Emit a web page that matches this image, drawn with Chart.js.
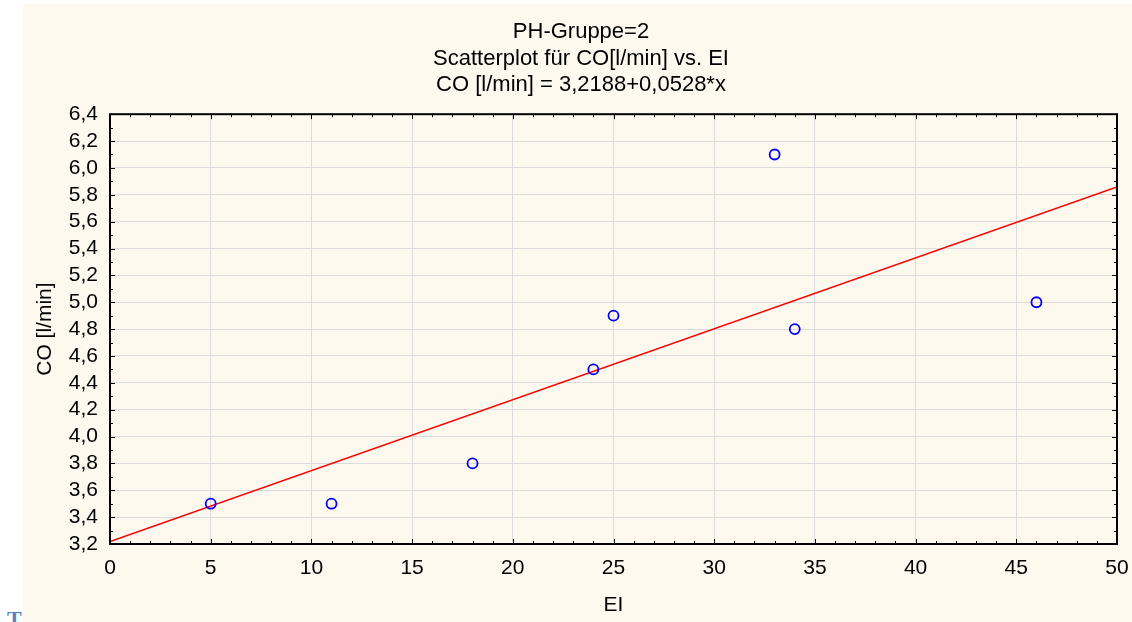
<!DOCTYPE html>
<html>
<head>
<meta charset="utf-8">
<script src="https://cdn.jsdelivr.net/npm/chart.js@4/dist/chart.umd.min.js"></script>
<style>
  html, body { margin: 0; padding: 0; background: #fff; width: 1132px; height: 622px; overflow: hidden; }
  #panel { position: absolute; left: 23px; top: 4px; width: 1109px; height: 618px; background: #fdf9ef; }
  #mark { position: absolute; left: 7px; top: 608px; font: bold 22px "Liberation Serif", serif; line-height: 22px; color: #5a82c0; }
</style>
</head>
<body>
<div id="panel"><canvas id="chart"></canvas></div>
<div id="mark">T</div>
<script>
// data
const titleLines = ["PH-Gruppe=2", "Scatterplot für CO[l/min] vs. EI", "CO [l/min] = 3,2188+0,0528*x"];
const xLabel = "EI";
const yLabel = "CO [l/min]";
const xTicks = [0, 5, 10, 15, 20, 25, 30, 35, 40, 45, 50];
const yTicks = [3.2, 3.4, 3.6, 3.8, 4.0, 4.2, 4.4, 4.6, 4.8, 5.0, 5.2, 5.4, 5.6, 5.8, 6.0, 6.2, 6.4];
const eiValues = [5, 11, 18, 24, 25, 33, 34, 46];
const coValues = [3.5, 3.5, 3.8, 4.5, 4.9, 6.1, 4.8, 5.0];
// regression line end points (from the equation in the title)
const fitX = [0, 50];
const fitY = [3.2188, 5.8588];

const FONT = "'Liberation Sans', Arial, sans-serif";
const comma = v => Number(v).toFixed(1).replace(".", ",");

// frame + small inward tick marks on all four sides
const frameTicks = {
  id: "frameTicks",
  afterDatasetsDraw(chart) {
    const { ctx, chartArea: a, scales: { x, y } } = chart;
    ctx.save();
    ctx.strokeStyle = "#000";
    ctx.lineWidth = 1;
    ctx.beginPath();
    // x: minor every 1, major every 5
    for (let v = xTicks[0]; v <= xTicks[xTicks.length - 1]; v += 1) {
      const px = Math.round(x.getPixelForValue(v)) + 0.5;
      const len = v % 5 === 0 ? 5 : 3;
      ctx.moveTo(px, a.bottom); ctx.lineTo(px, a.bottom - len);
      ctx.moveTo(px, a.top); ctx.lineTo(px, a.top + len);
    }
    // y: minor every 0.1, major every 0.2
    for (let i = 0; i <= (yTicks.length - 1) * 2; i++) {
      const py = Math.round(y.getPixelForValue(yTicks[0] + i * 0.1)) + 0.5;
      const len = i % 2 === 0 ? 5 : 3;
      ctx.moveTo(a.left, py); ctx.lineTo(a.left + len, py);
      ctx.moveTo(a.right, py); ctx.lineTo(a.right - len, py);
    }
    ctx.stroke();
    ctx.lineWidth = 2;
    ctx.strokeRect(a.left, a.top, a.right - a.left, a.bottom - a.top);
    ctx.restore();
  }
};

new Chart(document.getElementById("chart").getContext("2d"), {
  type: "scatter",
  data: {
    datasets: [
      {
        label: "CO",
        data: eiValues.map((v, i) => ({ x: v, y: coValues[i] })),
        pointStyle: "circle",
        pointRadius: 5,
        pointBorderWidth: 1.8,
        borderColor: "#0000ff",
        backgroundColor: "rgba(0,0,0,0)",
        order: 1
      },
      {
        type: "line",
        label: "Fit",
        data: fitX.map((v, i) => ({ x: v, y: fitY[i] })),
        borderColor: "#ff0000",
        borderWidth: 1.5,
        pointRadius: 0,
        fill: false,
        order: 2
      }
    ]
  },
  options: {
    responsive: true,
    maintainAspectRatio: false,
    animation: false,
    layout: { padding: { left: 7, right: 0, top: 0, bottom: 0 } },
    plugins: {
      legend: { display: false },
      tooltip: { enabled: false },
      title: {
        display: true,
        text: titleLines,
        color: "#000",
        font: { family: FONT, size: 22, weight: "normal", lineHeight: 1.2 },
        padding: { top: 15, bottom: 16 }
      }
    },
    scales: {
      x: {
        type: "linear",
        min: 0,
        max: 50,
        afterBuildTicks: s => { s.ticks = xTicks.map(v => ({ value: v })); },
        afterFit: s => { s.height = 78; s.paddingLeft = 0; s.paddingRight = 0; },
        grid: { color: "#dcdcdc", lineWidth: 1, drawTicks: false },
        border: { display: false },
        ticks: { color: "#000", padding: 12, maxRotation: 0, autoSkip: false, font: { family: FONT, size: 21 } },
        title: { display: true, text: xLabel, color: "#000", padding: { top: 0, bottom: 4 }, font: { family: FONT, size: 21 } }
      },
      y: {
        type: "linear",
        min: 3.2,
        max: 6.4,
        afterBuildTicks: s => { s.ticks = yTicks.map(v => ({ value: v })); },
        afterFit: s => { s.width = 80; s.paddingTop = 0; s.paddingBottom = 0; },
        grid: { color: "#dcdcdc", lineWidth: 1, drawTicks: false },
        border: { display: false },
        ticks: { color: "#000", padding: 12, autoSkip: false, callback: v => comma(v), font: { family: FONT, size: 21 } },
        title: { display: true, text: yLabel, color: "#000", padding: { top: 3, bottom: 0 }, font: { family: FONT, size: 21 } }
      },
      y2: {
        type: "linear",
        position: "right",
        display: true,
        min: 3.2,
        max: 6.4,
        afterFit: s => { s.width = 15; },
        grid: { display: false, drawTicks: false },
        border: { display: false },
        ticks: { display: false }
      }
    }
  },
  plugins: [frameTicks]
});
</script>
</body>
</html>
